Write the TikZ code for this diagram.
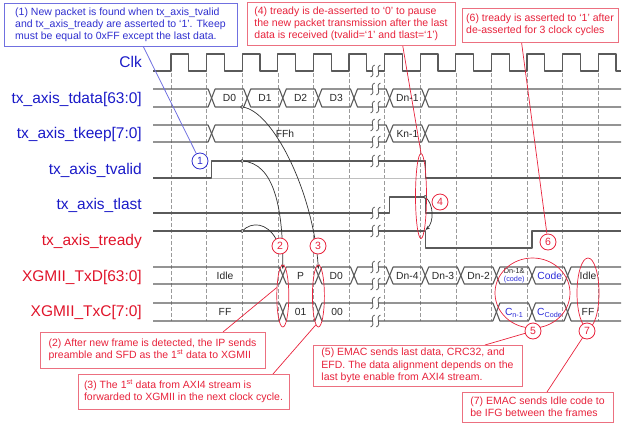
\documentclass[tikz,border=0pt]{standalone}
\usepackage{fontspec}
\setmainfont{Liberation Sans}
\usetikzlibrary{shapes.geometric,arrows.meta}
\pgfdeclarelayer{bg}
\pgfdeclarelayer{mid}
\pgfsetlayers{bg,mid,main}
\definecolor{wv}{HTML}{5A5A5A}
\definecolor{grd}{HTML}{9A9A9A}
\definecolor{lblue}{HTML}{1A1AC8}
\definecolor{lred}{HTML}{E0142A}
\definecolor{cred}{HTML}{E8233C}
\definecolor{bred}{HTML}{EC7080}
\definecolor{cblue}{HTML}{3030D0}
\definecolor{bblue}{HTML}{7070E0}
\definecolor{ccode}{HTML}{2A2AD8}
\newcommand\bsmid[4]{\draw[wave] (#1,{(#3+#4)/2}) -- ({#1+3.5},#3) -- ({#2-3.5},#3) -- (#2,{(#3+#4)/2}) -- ({#2-3.5},#4) -- ({#1+3.5},#4) -- cycle;}
\newcommand\bsstart[3]{\draw[wave] (153,#2) -- ({#1-3.5},#2) -- (#1,{(#2+#3)/2}) -- ({#1-3.5},#3) -- (153,#3);}
\newcommand\bsend[3]{\draw[wave] (621,#2) -- ({#1+3.5},#2) -- (#1,{(#2+#3)/2}) -- ({#1+3.5},#3) -- (621,#3);}
\newcommand\brkmark[1]{\fill[white] (372.6,{#1-1.6}) rectangle (378.4,{#1+1.6});
  \draw[wave, line width=0.8pt] (374.6,{#1-6}) .. controls (368.6,{#1-3}) and (376.6,{#1+3}) .. (370.6,{#1+6});
  \draw[wave, line width=0.8pt] (380.4,{#1-6}) .. controls (374.4,{#1-3}) and (382.4,{#1+3}) .. (376.4,{#1+6});}
\begin{document}
\begin{tikzpicture}[x=1pt,y=-1pt,
  wave/.style={draw=wv, line width=1.1pt, line join=round},
  gridline/.style={draw=grd, line width=0.6pt, dash pattern=on 3.5pt off 2.5pt},
  sig/.style={anchor=base east, inner sep=0pt, font=\fontsize{15.5}{18}\selectfont},
  blab/.style={inner sep=0pt, text height=7.2pt, text depth=0pt, font=\fontsize{10.3}{12}\selectfont, text=black!85},
  callr/.style={draw=bred, line width=0.9pt, fill=white, text=cred, align=left, inner sep=0pt, font=\fontsize{10.5}{11.8}\selectfont},
  callb/.style={callr, draw=bblue, text=cblue},
  num/.style={circle, draw=cred, line width=0.8pt, fill=white, text=cred, minimum size=16pt, inner sep=0pt, font=\fontsize{10.5}{12}\selectfont},
  ell/.style={ellipse, draw=cred, line width=0.7pt, inner sep=0pt},
  dotc/.style={circle, draw=black!80, line width=0.6pt, fill=white, minimum size=3.2pt, inner sep=0pt},
  curv/.style={draw=black!80, line width=0.7pt},
  arr/.style={-{Stealth[length=4.5pt,width=3.5pt]}},
  lnr/.style={draw=cred, line width=0.7pt},
  lnb/.style={draw=bblue, line width=0.8pt}]
\useasboundingbox (0,0) rectangle (624,424);

% ---------- waveforms ----------
\begin{pgfonlayer}{bg}
\foreach \k in {0,...,12} \draw[gridline] ({171+35.6*\k},73) -- ({171+35.6*\k},321);
% clock
\draw[wave] (153,71) foreach \k in {0,...,12} { -- ({171+35.6*\k},71) -- ({171+35.6*\k},54) -- ({188.8+35.6*\k},54) -- ({188.8+35.6*\k},71) } -- (621,71);
% tdata
\bsstart{211.6}{89}{107}
\bsmid{211.6}{247.2}{89}{107}
\bsmid{247.2}{282.8}{89}{107}
\bsmid{282.8}{318.4}{89}{107}
\bsmid{318.4}{354}{89}{107}
\bsmid{354}{389.6}{89}{107}
\bsmid{389.6}{425.2}{89}{107}
\bsend{425.2}{89}{107}
% tkeep
\bsstart{211.6}{125}{142}
\bsmid{211.6}{389.6}{125}{142}
\bsmid{389.6}{425.2}{125}{142}
\bsend{425.2}{125}{142}
% tvalid
\draw[draw=black!25, line width=0.8pt] (211.6,178) -- (425.2,178);
\draw[wave] (153,178) -- (211.6,178) -- (211.6,161) -- (425.2,161) -- (425.2,178) -- (621,178);
% tlast
\draw[wave] (153,213) -- (389.6,213) -- (389.6,197) -- (425.2,197) -- (425.2,213) -- (621,213);
% tready
\draw[wave] (153,231) -- (425.2,231) -- (425.2,248) -- (532,248) -- (532,231) -- (621,231);
% TxD
\bsstart{282.8}{267}{284}
\bsmid{282.8}{318.4}{267}{284}
\bsmid{318.4}{354}{267}{284}
\bsmid{354}{389.6}{267}{284}
\bsmid{389.6}{425.2}{267}{284}
\bsmid{425.2}{460.8}{267}{284}
\bsmid{460.8}{496.4}{267}{284}
\bsmid{496.4}{532}{267}{284}
\bsmid{532}{567.6}{267}{284}
\bsend{567.6}{267}{284}
% TxC
\bsstart{282.8}{303}{321}
\bsmid{282.8}{318.4}{303}{321}
\bsmid{318.4}{496.4}{303}{321}
\bsmid{496.4}{532}{303}{321}
\bsmid{532}{567.6}{303}{321}
\bsend{567.6}{303}{321}
% breaks
\foreach \yy in {71,89,107,125,142,161,213,231,267,284,303,321} {\brkmark{\yy}}
\end{pgfonlayer}

% ---------- signal names ----------
\node[sig, text=lblue] (sclk) at (142,67.5) {Clk};
\node[sig, text=lblue] (sdata) at (142,103.1) {tx\_axis\_tdata[63:0]};
\node[sig, text=lblue] (skeep) at (142,138.7) {tx\_axis\_tkeep[7:0]};
\node[sig, text=lblue] (svalid) at (142,174.3) {tx\_axis\_tvalid};
\node[sig, text=lblue] (slast) at (142,209.9) {tx\_axis\_tlast};
\node[sig, text=lred] (sready) at (142,245.5) {tx\_axis\_tready};
\node[sig, text=lred] (stxd) at (142,281.1) {XGMII\_TxD[63:0]};
\node[sig, text=lred] (stxc) at (142,316.7) {XGMII\_TxC[7:0]};

% ---------- bus values ----------
\node[blab] (d0) at (229.4,98) {D0};
\node[blab] (d1) at (265,98) {D1};
\node[blab] (d2) at (300.6,98) {D2};
\node[blab] (d3) at (336.2,98) {D3};
\node[blab] (dn1) at (407.4,98) {Dn-1};
\node[blab] (kff) at (285,133.5) {FFh};
\node[blab] (kn1) at (407.4,133.5) {Kn-1};
\node[blab] (xidle) at (225,275.5) {Idle};
\node[blab] (xp) at (300.6,275.5) {P};
\node[blab] (xd0) at (336.2,275.5) {D0};
\node[blab] (xd4) at (407.4,275.5) {Dn-4};
\node[blab] (xd3) at (443,275.5) {Dn-3};
\node[blab] (xd2) at (478.6,275.5) {Dn-2};
\node[inner sep=0pt, align=center, font=\fontsize{7.3}{7.8}\selectfont, text=black!85] (xd1) at (514.2,275.5) {Dn-1\&\\\textcolor{ccode}{(code)}};
\node[blab, text=ccode] (xcode) at (549.8,275.5) {Code};
\node[blab] (xidle2) at (588,275.5) {Idle};
\node[blab] (cff) at (225,312) {FF};
\node[blab] (c01) at (300.6,312) {01};
\node[blab] (c00) at (337,312) {00};
\node[blab, text=ccode] (ccn) at (514.2,312) {C\textsubscript{n-1}};
\node[blab, text=ccode] (cccode) at (549.8,312) {C\textsubscript{Code}};
\node[blab] (cff2) at (588,312) {FF};

% ---------- ellipses ----------
\node[ell, minimum width=12pt, minimum height=62pt] (e2) at (282.8,296) {};
\node[ell, minimum width=12pt, minimum height=62pt] (e3) at (318.4,296) {};
\node[ell, minimum width=11pt, minimum height=85pt] (e4) at (421,196) {};
\node[ell, minimum width=75pt, minimum height=70pt] (e5) at (532.5,293) {};
\node[ell, minimum width=22pt, minimum height=70pt] (e7) at (588,293) {};

% ---------- points on waveforms ----------
\node[dotc] (pA) at (242.2,107) {};
\node[dotc] (pB) at (242.2,161) {};
\node[dotc] (pC) at (242.2,231) {};
\node[dotc] (pD) at (425.2,197) {};
\coordinate (tA) at (318.4,269);
\coordinate (tB) at (282.8,269);
\coordinate (tD) at (425.6,230);

% ---------- numbered circles ----------
\node[num, draw=cblue, text=cblue] (c1) at (200,161) {1};
\node[num] (c2) at (280,246) {2};
\node[num] (c3) at (318,246) {3};
\node[num] (c4) at (440,202) {4};
\node[num] (c5) at (533,331) {5};
\node[num] (c6) at (548,242) {6};
\node[num] (c7) at (587,331) {7};

% ---------- callouts ----------
\node[callb, minimum width=233pt, minimum height=43pt] (k1) at (120.5,24.5) {(1) New packet is found when tx\_axis\_tvalid\\and tx\_axis\_tready are asserted to ‘1’. Tkeep\\must be equal to 0xFF except the last data.};
\node[callr, minimum width=208pt, minimum height=43pt] (k4) at (351,23.5) {(4) tready is de-asserted to ‘0’ to pause\\the new packet transmission after the last\\data is received (tvalid=‘1’ and tlast=‘1’)};
\node[callr, minimum width=156pt, minimum height=34pt] (k6) at (540,25) {(6) tready is asserted to ‘1’ after\\de-asserted for 3 clock cycles};
\node[callr, minimum width=225pt, minimum height=36pt] (k2) at (152.5,350) {(2) After new frame is detected, the IP sends\\preamble and SFD as the 1\textsuperscript{st} data to XGMII};
\node[callr, minimum width=211pt, minimum height=35pt] (k3) at (183.5,391.5) {(3) The 1\textsuperscript{st} data from AXI4 stream is\\forwarded to XGMII in the next clock cycle.};
\node[callr, minimum width=209pt, minimum height=41pt, font=\fontsize{10.5}{12.4}\selectfont] (k5) at (417.5,365.5) {(5) EMAC sends last data, CRC32, and\\EFD. The data alignment depends on the\\last byte enable from AXI4 stream.};
\node[callr, minimum width=151pt, minimum height=30pt, font=\fontsize{10.5}{12}\selectfont] (k7) at (537.5,407) {(7) EMAC sends Idle code to\\be IFG between the frames};
\coordinate (k1a) at (143,46);
\coordinate (k4a) at (402.6,45);
\coordinate (k6a) at (521.5,42);
\coordinate (k2a) at (223,332);
\coordinate (k3a) at (273,374);
\coordinate (k5a) at (485,345);
\coordinate (k7a) at (547,392);

% ---------- connectors ----------
\begin{pgfonlayer}{mid}
\draw[curv, arr] (pA.center) .. controls (272,110) and (313,190) .. (tA);
\draw[curv, arr] (pB.center) .. controls (275,163) and (283,210) .. (tB);
\draw[curv] (pC.center) .. controls (252,221) and (267,223) .. (c2);
\draw[curv, arr] (pD.center) .. controls (434,204) and (434,222) .. (tD);
\draw[lnb] (k1a) -- (c1);
\draw[lnr] (k4a) -- (e4.north);
\draw[lnr] (k6a) -- (c6);
\draw[lnr] (e2.126) -- (k2a);
\draw[lnr] (e3.265) -- (k3a);
\draw[lnr] (c5) -- (k5a);
\draw[lnr] (c7) -- (k7a);
\end{pgfonlayer}
\end{tikzpicture}
\end{document}
